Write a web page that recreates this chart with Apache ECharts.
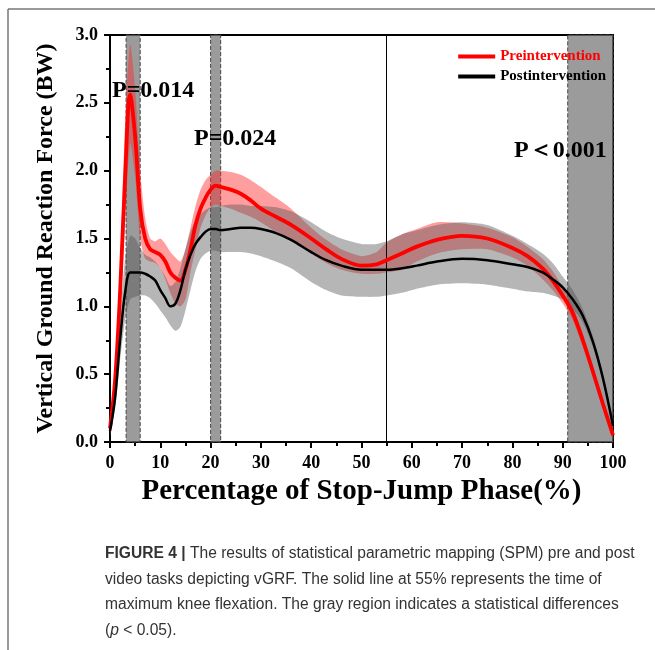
<!DOCTYPE html>
<html><head><meta charset="utf-8">
<script src="https://cdn.jsdelivr.net/npm/echarts@6/dist/echarts.min.js"></script>
<style>html,body{margin:0;padding:0;background:#fff}#c{width:655px;height:650px}</style>
</head><body><div id="c"></div>
<script>
const xPct = [0,1,2,3,4,5,6,7,8,9,10,11,12,13,14,15,16,17,18,19,20,21,22,24,26,28,30,33,36,40,43,46,50,53,55,58,61,65,70,75,80,83,86,88,90,92,94,96,98,100];
const preMean = [0.1,0.45,1.1,1.95,2.56,2.25,1.72,1.5,1.42,1.40,1.38,1.33,1.25,1.21,1.19,1.27,1.42,1.6,1.72,1.8,1.86,1.89,1.88,1.86,1.83,1.78,1.72,1.66,1.6,1.5,1.42,1.35,1.30,1.31,1.34,1.39,1.44,1.49,1.52,1.5,1.43,1.37,1.28,1.19,1.08,0.95,0.75,0.52,0.28,0.05];
const preLower = [0.05,0.35,0.9,1.6,2.2,1.95,1.5,1.35,1.33,1.32,1.28,1.2,1.1,1.02,1.0,1.05,1.25,1.42,1.58,1.67,1.73,1.75,1.74,1.72,1.69,1.66,1.62,1.55,1.5,1.39,1.32,1.27,1.24,1.24,1.25,1.27,1.33,1.39,1.42,1.42,1.36,1.3,1.2,1.12,1.02,0.9,0.7,0.48,0.25,0.03];
const preUpper = [0.15,0.55,1.3,2.35,2.93,2.6,2.0,1.65,1.5,1.48,1.5,1.46,1.4,1.36,1.33,1.42,1.58,1.74,1.86,1.93,1.97,2.0,2.0,1.99,1.97,1.93,1.88,1.8,1.72,1.58,1.49,1.42,1.37,1.40,1.47,1.53,1.57,1.62,1.61,1.58,1.51,1.44,1.35,1.26,1.14,1.0,0.8,0.56,0.31,0.07];
const postMean = [0.08,0.32,0.75,1.1,1.25,1.25,1.25,1.24,1.22,1.19,1.12,1.06,1.0,1.02,1.12,1.27,1.38,1.46,1.51,1.55,1.57,1.57,1.56,1.57,1.58,1.58,1.57,1.54,1.49,1.4,1.34,1.3,1.27,1.27,1.27,1.28,1.30,1.33,1.35,1.34,1.31,1.29,1.25,1.2,1.14,1.05,0.93,0.74,0.47,0.12];
const postLower = [0.04,0.25,0.6,0.9,1.05,1.07,1.08,1.08,1.06,1.02,0.97,0.92,0.86,0.82,0.85,0.97,1.12,1.26,1.35,1.39,1.41,1.41,1.40,1.40,1.40,1.39,1.37,1.33,1.28,1.18,1.12,1.08,1.07,1.07,1.08,1.10,1.13,1.16,1.17,1.16,1.13,1.11,1.1,1.08,1.05,0.98,0.88,0.7,0.44,0.1];
const postUpper = [0.12,0.4,0.9,1.35,1.52,1.5,1.43,1.38,1.36,1.33,1.28,1.22,1.15,1.18,1.28,1.42,1.55,1.63,1.68,1.71,1.73,1.73,1.74,1.75,1.75,1.74,1.74,1.73,1.70,1.62,1.55,1.5,1.46,1.46,1.48,1.53,1.56,1.6,1.62,1.6,1.52,1.46,1.39,1.32,1.22,1.12,0.98,0.78,0.5,0.14];
const sigRegions = [[3.2,6],[20,22],[91,100]];
const kneeLine = 55;
const annotations = [
  {text:'P=0.014', x:112, y:79},
  {text:'P=0.024', x:194, y:127},
  {text:'P\uFF1C0.001', x:514, y:139}
];
const seriesNames = ['Preintervention','Postintervention'];
const xTitle = 'Percentage of Stop-Jump Phase(%)';
const yTitle = 'Vertical Ground Reaction Force (BW)';

const serif = '"Liberation Serif","Times New Roman",serif';
const sans = '"Liberation Sans",Arial,Helvetica,sans-serif';
function pairs(ys){return xPct.map((x,i)=>[x,ys[i]]);}
function bandSeries(name, lo, hi, fill, z){
  return {type:'custom',name:name,silent:true,z:z,clip:true,
    data:[[xPct[0],lo[0]]],
    renderItem:function(params, api){
      const pts = [];
      for(let i=0;i<xPct.length;i++) pts.push(api.coord([xPct[i],hi[i]]));
      for(let i=xPct.length-1;i>=0;i--) pts.push(api.coord([xPct[i],lo[i]]));
      return {type:'polygon',shape:{points:pts,smooth:0.25},style:{fill:fill,stroke:null}};
    }};
}

const chart = echarts.init(document.getElementById('c'));
const axisCommon = {
  axisLine:{show:true,onZero:false,lineStyle:{color:'#000',width:2}},
  axisTick:{show:true,inside:false,length:6,lineStyle:{color:'#000',width:2}},
  minorTick:{show:true,splitNumber:2,length:4,lineStyle:{color:'#000',width:2}},
  splitLine:{show:false}
};
chart.setOption({
  animation:false,
  grid:{left:110,top:35,right:42,bottom:208,show:true,borderColor:'#000',borderWidth:2,backgroundColor:'transparent'},
  xAxis:Object.assign({type:'value',min:0,max:100,interval:10,
    axisLabel:{margin:12,color:'#000',fontFamily:serif,fontWeight:'bold',fontSize:18},
    name:xTitle,nameLocation:'middle',nameGap:35,
    nameTextStyle:{fontFamily:serif,fontWeight:'bold',fontSize:29,color:'#000'}},axisCommon),
  yAxis:Object.assign({type:'value',min:0,max:3,interval:0.5,
    axisLabel:{margin:12,color:'#000',fontFamily:serif,fontWeight:'bold',fontSize:18,formatter:v=>v.toFixed(1)},
    name:yTitle,nameLocation:'middle',nameGap:52,
    nameTextStyle:{fontFamily:serif,fontWeight:'bold',fontSize:24,color:'#000'}},axisCommon),
  legend:{orient:'vertical',right:44,top:44,itemWidth:37,itemHeight:4,itemGap:5,icon:'rect',
    textStyle:{fontFamily:serif,fontWeight:'bold',fontSize:15},
    data:[{name:seriesNames[0],textStyle:{color:'#ff0000'}},{name:seriesNames[1],textStyle:{color:'#000'}}]},
  series:[
    {type:'line',name:'sig',data:pairs(preMean),lineStyle:{opacity:0},symbol:'none',silent:true,z:1,
      markArea:{silent:true,itemStyle:{color:'rgba(120,120,120,0.74)',borderColor:'#444',borderWidth:1,borderType:'dashed'},
        data:sigRegions.map(r=>[{xAxis:r[0]},{xAxis:r[1]}])},
      markLine:{silent:true,symbol:'none',label:{show:false},lineStyle:{color:'#000',width:1,type:'solid'},data:[{xAxis:kneeLine}]}},
    bandSeries('preBand',preLower,preUpper,'rgba(255,40,40,0.45)',2),
    bandSeries('postBand',postLower,postUpper,'rgba(80,80,80,0.42)',3),
    {type:'line',name:seriesNames[0],data:pairs(preMean),smooth:0.35,symbol:'none',z:5,color:'#ff0000',itemStyle:{color:'#ff0000'},lineStyle:{color:'#ff0000',width:3.8}},
    {type:'line',name:seriesNames[1],data:pairs(postMean),smooth:0.35,symbol:'none',z:6,color:'#000',itemStyle:{color:'#000'},lineStyle:{color:'#000',width:2.5}}
  ],
  graphic:[
    {type:'line',shape:{x1:8,y1:9,x2:8,y2:650},style:{stroke:'#777',lineWidth:1.5}},
    {type:'line',shape:{x1:8,y1:9,x2:655,y2:9},style:{stroke:'#777',lineWidth:1.5}},
    ...annotations.map(a=>({type:'text',left:a.x,top:a.y,z:100,style:{text:a.text,fill:'#000',font:'bold 24px '+serif}})),
    {type:'text',left:105,top:541,style:{
      text:'{b|FIGURE 4 |} The results of statistical parametric mapping (SPM) pre and post\nvideo tasks depicting vGRF. The solid line at 55% represents the time of\nmaximum knee flexation. The gray region indicates a statistical differences\n({i|p} < 0.05).',
      fill:'#333',fontFamily:sans,fontSize:15.6,lineHeight:25.5,
      rich:{b:{fontWeight:'bold',fontFamily:sans,fontSize:15.6,fill:'#333',lineHeight:25.5},i:{fontStyle:'italic',fontFamily:sans,fontSize:15.6,fill:'#333',lineHeight:25.5}}}}
  ]
});
</script></body></html>
